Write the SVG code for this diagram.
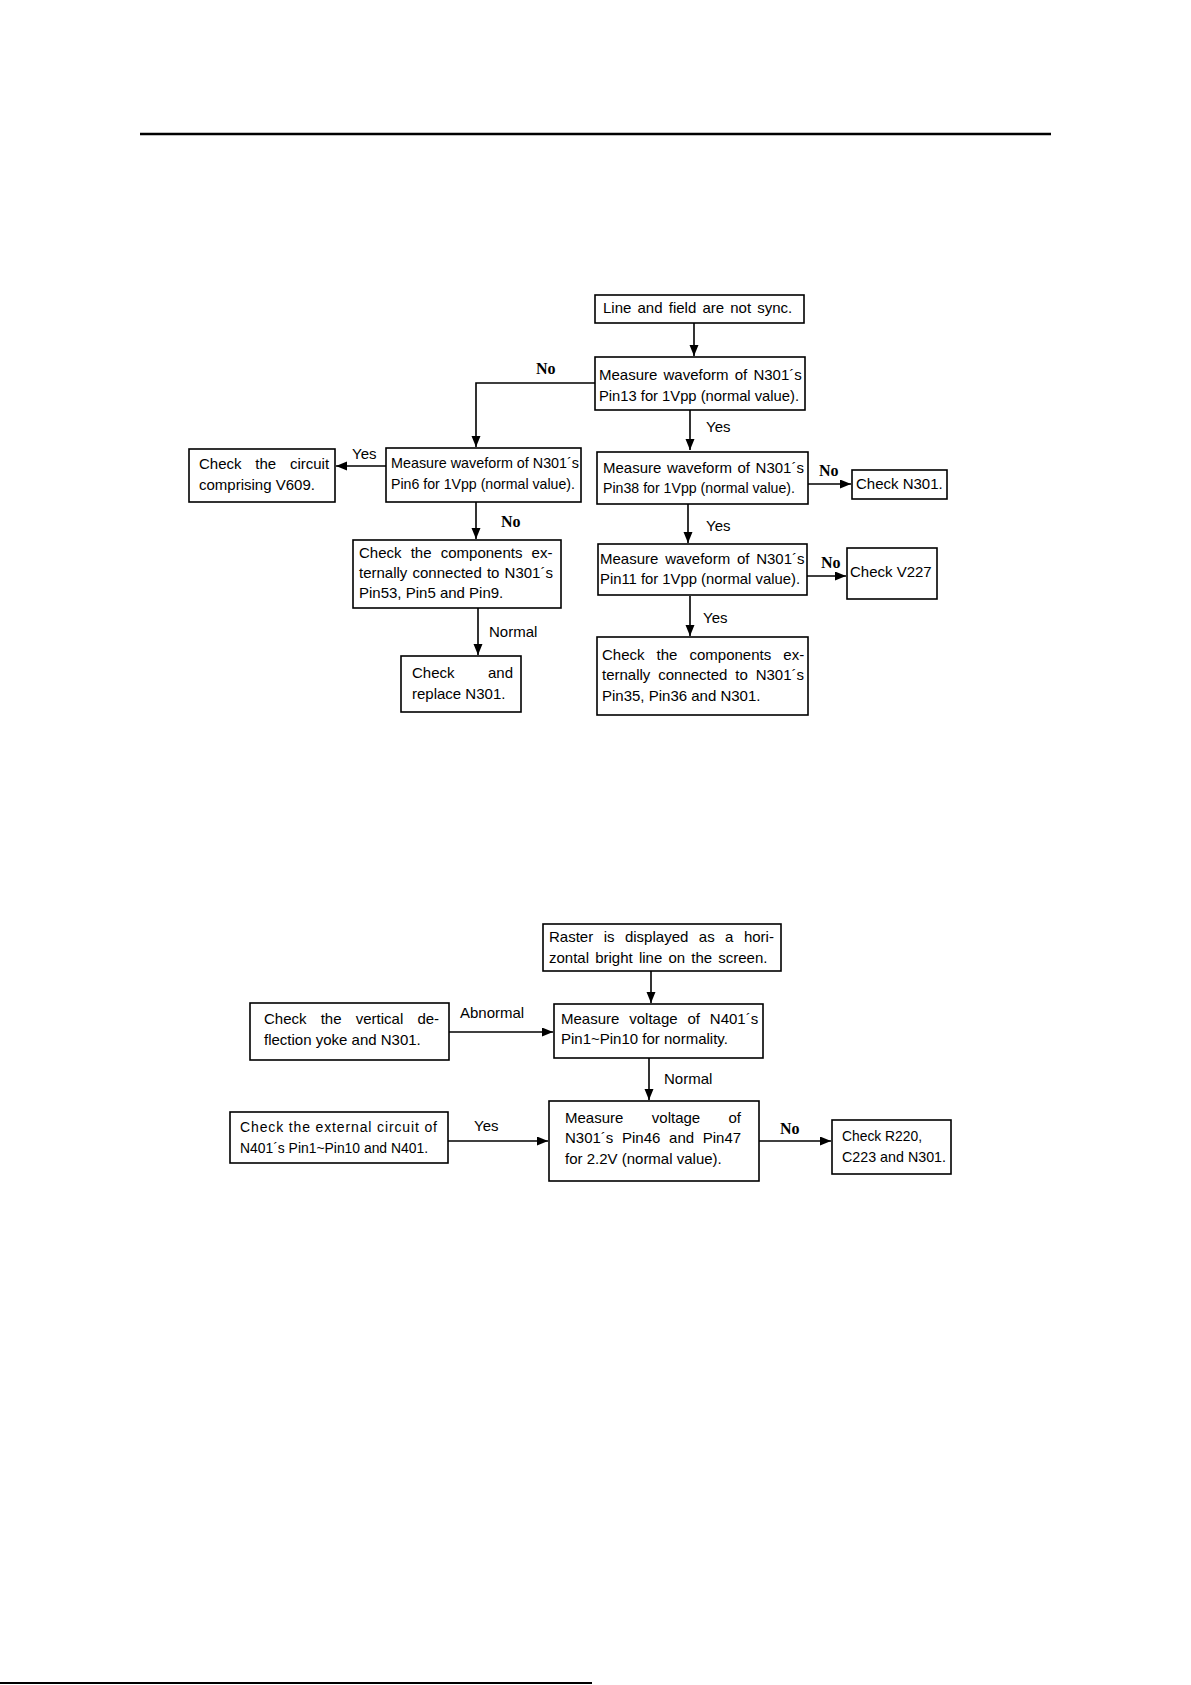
<svg xmlns="http://www.w3.org/2000/svg" width="1191" height="1685" viewBox="0 0 1191 1685">
<defs>
<marker id="ah" markerUnits="userSpaceOnUse" markerWidth="12" markerHeight="10" refX="11" refY="4.5" orient="auto">
<path d="M0,0 L11,4.5 L0,9 z" fill="#000"/>
</marker>
<style>
.box{fill:#fff;stroke:#000;stroke-width:1.6}
.t{font-family:"Liberation Sans",Arial,sans-serif;font-size:15px;fill:#000}
.s{font-size:14px}
.lab{font-family:"Liberation Sans",Arial,sans-serif;font-size:15px;fill:#000}
.no{font-family:"Liberation Serif","Times New Roman",serif;font-size:16px;font-weight:bold;fill:#000}
.c{fill:none;stroke:#000;stroke-width:1.6;marker-end:url(#ah)}
</style>
</defs>
<rect width="1191" height="1685" fill="#fff"/>
<line x1="140" y1="134" x2="1051" y2="134" stroke="#000" stroke-width="2.5"/>
<line x1="0" y1="1683" x2="592" y2="1683" stroke="#000" stroke-width="2"/>

<g id="connectors">
<path class="c" d="M694,323 V356"/>
<path class="c" d="M595,383 H476 V447"/>
<path class="c" d="M690,410 V450"/>
<path class="c" d="M386,466 H336"/>
<path class="c" d="M476,502 V539"/>
<path class="c" d="M478,608 V655"/>
<path class="c" d="M808,484 H851"/>
<path class="c" d="M688,504 V543"/>
<path class="c" d="M807,576 H846"/>
<path class="c" d="M690,596 V636"/>
<path class="c" d="M651,971 V1003"/>
<path class="c" d="M449,1032 H553"/>
<path class="c" d="M649,1058 V1100"/>
<path class="c" d="M448,1141 H548"/>
<path class="c" d="M759,1141 H831"/>
<text class="no" x="536" y="374">No</text>
<text class="lab" x="706" y="432">Yes</text>
<text class="lab" x="352" y="459">Yes</text>
<text class="no" x="501" y="527">No</text>
<text class="lab" x="489" y="637">Normal</text>
<text class="no" x="819" y="476">No</text>
<text class="lab" x="706" y="531">Yes</text>
<text class="no" x="821" y="568">No</text>
<text class="lab" x="703" y="623">Yes</text>
<text class="lab" x="460" y="1018">Abnormal</text>
<text class="lab" x="664" y="1084">Normal</text>
<text class="lab" x="474" y="1131">Yes</text>
<text class="no" x="780" y="1134">No</text>
</g>

<g id="n-sync">
<rect class="box" x="595" y="295" width="209" height="28"/>
<text class="t" x="603" y="313" word-spacing="2">Line and field are not sync.</text>
</g>
<g id="n-pin13">
<rect class="box" x="595" y="357" width="210" height="53"/>
<text class="t" x="599" y="380" word-spacing="2">Measure waveform of N301´s</text>
<text class="t" x="599" y="401" textLength="200" lengthAdjust="spacingAndGlyphs">Pin13 for 1Vpp (normal value).</text>
</g>
<g id="n-pin6">
<rect class="box" x="386" y="448" width="195" height="54"/>
<text class="t" x="391" y="468" textLength="188" lengthAdjust="spacingAndGlyphs">Measure waveform of N301´s</text>
<text class="t" x="391" y="489" textLength="184" lengthAdjust="spacingAndGlyphs">Pin6 for 1Vpp (normal value).</text>
</g>
<g id="n-v609">
<rect class="box" x="189" y="449" width="146" height="53"/>
<text class="t" x="199" y="469" word-spacing="9.6">Check the circuit</text>
<text class="t" x="199" y="490">comprising V609.</text>
</g>
<g id="n-pin38">
<rect class="box" x="597" y="452" width="211" height="52"/>
<text class="t" x="603" y="473" word-spacing="1.4">Measure waveform of N301´s</text>
<text class="t" x="603" y="493" textLength="192" lengthAdjust="spacingAndGlyphs">Pin38 for 1Vpp (normal value).</text>
</g>
<g id="n-checkn301">
<rect class="box" x="852" y="470" width="95" height="29"/>
<text class="t" x="856" y="489">Check N301.</text>
</g>
<g id="n-pin53">
<rect class="box" x="353" y="540" width="208" height="68"/>
<text class="t" x="359" y="558" word-spacing="5">Check the components ex-</text>
<text class="t" x="359" y="578" word-spacing="1">ternally connected to N301´s</text>
<text class="t" x="359" y="598">Pin53, Pin5 and Pin9.</text>
</g>
<g id="n-pin11">
<rect class="box" x="598" y="544" width="209" height="51"/>
<text class="t" x="600" y="564" word-spacing="2.6">Measure waveform of N301´s</text>
<text class="t" x="600" y="584" textLength="200" lengthAdjust="spacingAndGlyphs">Pin11 for 1Vpp (normal value).</text>
</g>
<g id="n-v227">
<rect class="box" x="847" y="548" width="90" height="51"/>
<text class="t" x="850" y="577">Check V227</text>
</g>
<g id="n-replace">
<rect class="box" x="401" y="656" width="120" height="56"/>
<text class="t" x="412" y="678">Check</text>
<text class="t" x="513" y="678" text-anchor="end">and</text>
<text class="t" x="412" y="699">replace N301.</text>
</g>
<g id="n-pin35">
<rect class="box" x="597" y="637" width="211" height="78"/>
<text class="t" x="602" y="660" word-spacing="7.9">Check the components ex-</text>
<text class="t" x="602" y="680" word-spacing="3.7">ternally connected to N301´s</text>
<text class="t" x="602" y="701">Pin35, Pin36 and N301.</text>
</g>

<g id="n-raster">
<rect class="box" x="543" y="924" width="238" height="47"/>
<text class="t" x="549" y="942" word-spacing="6.3">Raster is displayed as a hori-</text>
<text class="t" x="549" y="963" word-spacing="2">zontal bright line on the screen.</text>
</g>
<g id="n-n401">
<rect class="box" x="554" y="1004" width="209" height="54"/>
<text class="t" x="561" y="1024" word-spacing="5.7">Measure voltage of N401´s</text>
<text class="t" x="561" y="1044">Pin1~Pin10 for normality.</text>
</g>
<g id="n-deflection">
<rect class="box" x="250" y="1003" width="199" height="57"/>
<text class="t" x="264" y="1024" word-spacing="10">Check the vertical de-</text>
<text class="t" x="264" y="1045">flection yoke and N301.</text>
</g>
<g id="n-external">
<rect class="box" x="230" y="1112" width="218" height="51"/>
<text class="t s" x="240" y="1132" textLength="197" lengthAdjust="spacing">Check the external circuit of</text>
<text class="t s" x="240" y="1153" textLength="188" lengthAdjust="spacingAndGlyphs">N401´s Pin1~Pin10 and N401.</text>
</g>
<g id="n-pin46">
<rect class="box" x="549" y="1101" width="210" height="80"/>
<text class="t" x="565" y="1123">Measure</text>
<text class="t" x="676" y="1123" text-anchor="middle">voltage</text>
<text class="t" x="741" y="1123" text-anchor="end">of</text>
<text class="t" x="565" y="1143" word-spacing="4.5">N301´s Pin46 and Pin47</text>
<text class="t" x="565" y="1164">for 2.2V (normal value).</text>
</g>
<g id="n-r220">
<rect class="box" x="832" y="1120" width="119" height="54"/>
<text class="t" x="842" y="1141" textLength="80" lengthAdjust="spacingAndGlyphs">Check R220,</text>
<text class="t" x="842" y="1162" textLength="104" lengthAdjust="spacingAndGlyphs">C223 and N301.</text>
</g>
</svg>
